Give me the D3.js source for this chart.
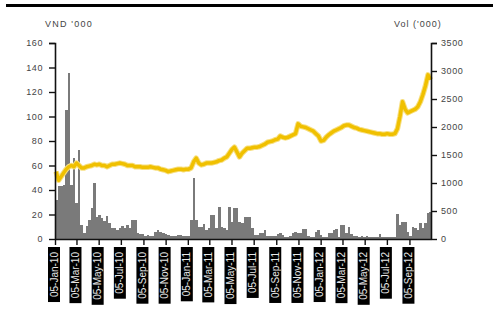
<!DOCTYPE html>
<html><head><meta charset="utf-8">
<script src="https://cdn.jsdelivr.net/npm/d3@7/dist/d3.min.js"></script>
<style>body{margin:0;background:#fff}svg{display:block}text{font-family:"Liberation Sans",Arial,sans-serif}</style>
</head><body><svg id="c" width="496" height="310"></svg>
<script>
const startDate = "2010-01-05";
const endDate = "2012-11-06";
const xTickLabels = ["05-Jan-10","05-Mar-10","05-May-10","05-Jul-10","05-Sep-10","05-Nov-10","05-Jan-11","05-Mar-11","05-May-11","05-Jul-11","05-Sep-11","05-Nov-11","05-Jan-12","05-Mar-12","05-May-12","05-Jul-12","05-Sep-12"];
const leftTicks = [0,20,40,60,80,100,120,140,160];
const rightTicks = [0,500,1000,1500,2000,2500,3000,3500];
// weekly volume ('000)
const volume = [700,940,950,960,2310,2965,960,1445,640,1595,250,110,240,340,560,1000,400,420,370,320,
410,290,200,190,160,200,230,200,250,200,340,340,100,90,90,50,65,50,60,130,
160,120,100,90,70,50,50,50,70,65,50,50,50,340,1085,340,220,220,260,160,
190,430,430,200,575,210,200,160,570,300,550,550,300,290,390,390,390,200,70,70,
100,100,160,50,50,50,60,90,110,70,40,40,50,110,120,110,110,180,180,50,
40,40,120,160,70,40,40,100,100,160,170,40,250,250,100,220,90,50,50,40,
50,40,50,40,30,30,30,90,30,30,30,30,30,30,446,250,310,310,120,50,
220,200,160,280,200,280,460,490];
// weekly price (VND '000)
const price = [55,48,51,54,57,59,60,59,62,60,58,58,59,59.5,60,61,60.5,61,60,60,
59,60,61,61,61.5,62,61.5,61,60,60,60,59,59,59,58.5,58.5,58.5,59,58.5,58,
58,57,56.5,56,55,55.5,56,56.5,57,57,56.5,57,57,58,63,66,62,60.5,61,62,
62,62,62.5,63,64,64.5,66,67,70,73,75,71,67,70,72,74,74,74.5,75,75,
75.5,76.5,77.5,79,79.5,80,81,81.5,84,83,82.5,83,84,85,86,94,92,91.5,91,90,
89,88,86,84,80,80.5,83,85,86.5,88,89,90,91,92.5,93,93,92,91,90.5,89.5,
89,88.5,88,87.5,87,86.5,86,86,85.5,85.5,86,85.5,85.5,86,90,100,112,106,103,104,
105,106,108,112,118,125,134,130];

const svg = d3.select("#c");
const parse = d3.timeParse("%Y-%m-%d");
const parseTick = d3.timeParse("%d-%b-%y");
const t0 = parse(startDate), t1 = parse(endDate);
const x = d3.scaleTime().domain([t0, t1]).range([55, 432]);
const yL = d3.scaleLinear().domain([0,160]).range([239,43]);
const yR = d3.scaleLinear().domain([0,3500]).range([239,43]);
const weekStart = i => d3.timeDay.offset(t0, 7*i);

// top rule
svg.append("rect").attr("x",6).attr("y",4).attr("width",487).attr("height",3).attr("fill","#000");

// bars
svg.append("g").attr("shape-rendering","crispEdges").selectAll("rect").data(volume).join("rect")
  .attr("x", (d,i)=>Math.round(x(weekStart(i))))
  .attr("width", (d,i)=>Math.max(1, Math.round(Math.min(x(weekStart(i+1)), 432)) - Math.round(x(weekStart(i)))))
  .attr("y", d=>yR(d)).attr("height", d=>239-yR(d))
  .attr("fill","#7a7a7a");

// price line
const line = d3.line().x((d,i)=>x(d3.timeDay.offset(weekStart(i),3))).y(d=>yL(d)).curve(d3.curveLinear);
svg.append("path").datum(price).attr("d",line).attr("fill","none").attr("stroke","#f7df80").attr("stroke-width",5.5).attr("stroke-linejoin","round");
svg.append("path").datum(price).attr("d",line).attr("fill","none").attr("stroke","#f0c000").attr("stroke-width",3.5).attr("stroke-linejoin","round");

// axes
const axL = d3.axisLeft(yL).tickValues(leftTicks).tickSize(6).tickPadding(6).tickFormat(d3.format("d"));
const gL = svg.append("g").attr("transform","translate(55,0)").call(axL);
const axR = d3.axisRight(yR).tickValues(rightTicks).tickSize(5).tickPadding(4).tickFormat(d3.format("d"));
const gR = svg.append("g").attr("transform","translate(432,0)").call(axR);
const tickDates = xTickLabels.map(parseTick);
const axB = d3.axisBottom(x).tickValues(tickDates).tickSize(6).tickFormat(()=>"");
const gB = svg.append("g").attr("transform","translate(0,239)").call(axB);
[gL,gR,gB].forEach(g=>{
  g.select(".domain").attr("stroke","#111").attr("stroke-width",1.6);
  g.selectAll(".tick line").attr("stroke","#111").attr("stroke-width",1.4);
});
gB.select(".domain").attr("d","M55,0.5H432");
gL.select(".domain").attr("d","M-6,43.5H0.5V239.5");
gR.select(".domain").attr("d","M5,43.5H-0.5V239.5");
[gL,gR].forEach(g=>g.selectAll(".tick text").attr("font-size",9).attr("letter-spacing",0.6).attr("fill","#444").attr("font-family","Liberation Sans, Arial, sans-serif"));

// x labels in black boxes
const lg = svg.append("g");
tickDates.forEach((d,i)=>{
  const cx = x(d) - 1;
  const g = lg.append("g").attr("transform",`translate(${cx},247) rotate(-90)`);
  const r = g.append("rect");
  const t = g.append("text").text(xTickLabels[i]).attr("font-size",10).attr("fill","#e8e8e8")
    .attr("text-anchor","end").attr("x",-5).attr("dy","0.35em").attr("y",0);
  const w = t.node().getComputedTextLength();
  r.attr("x",-w-10).attr("y",-6).attr("width",w+10).attr("height",12).attr("fill","#000");
});

// axis titles
svg.append("text").attr("x",45).attr("y",26.5).attr("font-size",9).attr("letter-spacing",1.2).attr("fill","#444").text("VND '000");
svg.append("text").attr("x",394).attr("y",26.5).attr("font-size",9).attr("letter-spacing",1.0).attr("fill","#444").text("Vol ('000)");
</script></body></html>
